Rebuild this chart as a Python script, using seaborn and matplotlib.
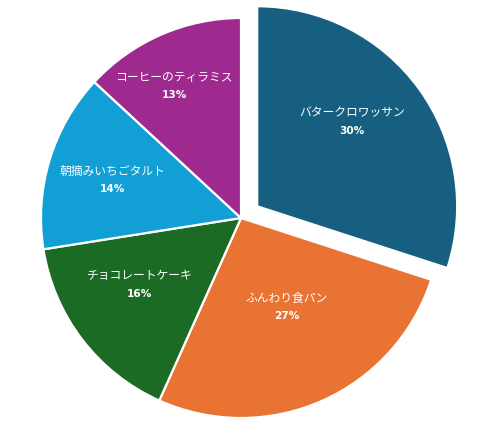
import matplotlib
matplotlib.use("Agg")
import matplotlib.pyplot as plt
import numpy as np
import seaborn as sns

sns.set_style("white")
plt.rcParams["font.family"] = ["Noto Sans CJK JP", "DejaVu Sans"]

# data
items = ["バタークロワッサン", "ふんわり食パン", "チョコレートケーキ", "朝摘みいちごタルト", "コーヒーのティラミス"]
shares = [30.0, 26.7, 15.8, 14.4, 13.1]
colors = ["#165f80", "#e97333", "#1b6b25", "#119fd6", "#9e2a8f"]
explode = [0.1, 0, 0, 0, 0]

# label placement (polar, in units of the radius)
label_r = [0.734, 0.50, 0.605, 0.670, 0.740]
label_ang = [40.9, 297.3, 213.4, 163.5, 116.9]

fig = plt.figure(figsize=(4.93, 4.25), dpi=100)
ax = fig.add_axes([0, 0, 1, 1])

wedges, _ = ax.pie(
    shares,
    colors=colors,
    explode=explode,
    startangle=90,
    counterclock=False,
    radius=1.0,
    wedgeprops={"edgecolor": "white", "linewidth": 1.6},
)

for name, val, r, a in zip(items, shares, label_r, label_ang):
    x = r * np.cos(np.radians(a))
    y = r * np.sin(np.radians(a))
    ax.text(x, y + 0.045, name, ha="center", va="center", color="white", fontsize=8.5)
    ax.text(x, y - 0.045, f"{val:.0f}%", ha="center", va="center", color="white",
            fontsize=7.6, fontweight="bold", family=["DejaVu Sans"])

ax.set_xlim(-241 / 200, (493 - 241) / 200)
ax.set_ylim(-207 / 200, 218 / 200)
ax.set_aspect("equal")
ax.axis("off")

fig.savefig("out.png", dpi=100)
